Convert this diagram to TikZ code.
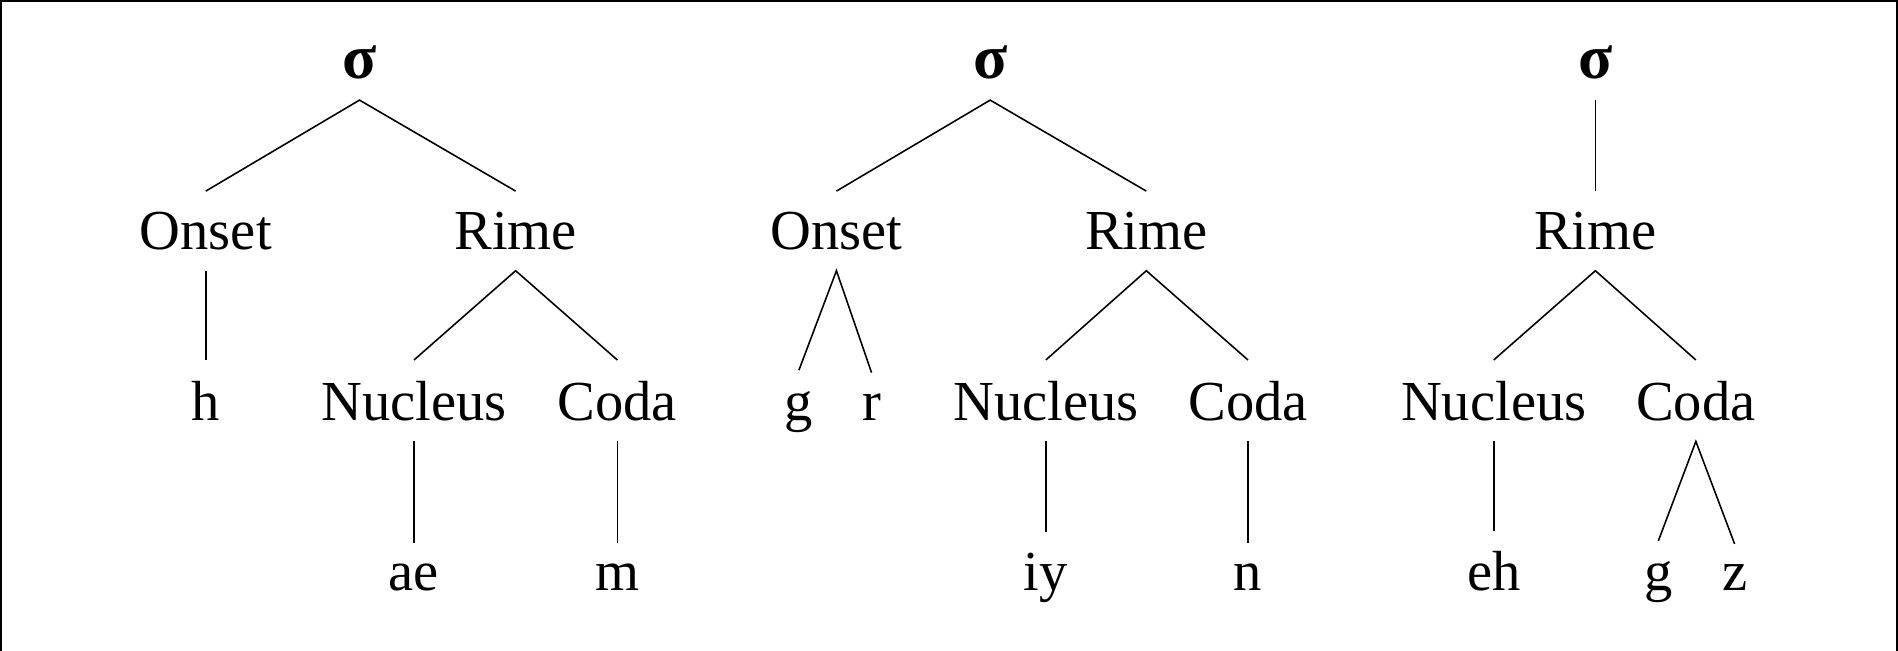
\documentclass[tikz,border=0pt]{standalone}
\usepackage{fontspec}
\setmainfont{Liberation Serif}
\begin{document}
\begin{tikzpicture}[x=1pt,y=-1pt,
  lab/.style={font=\fontsize{46.7}{50}\selectfont, anchor=base, inner xsep=0pt, inner ysep=17pt},
  sig/.style={lab, font=\fontsize{52}{56}\selectfont\bfseries},
  edge/.style={line width=1.3pt}]
\useasboundingbox (0,0) rectangle (1568,537);
\draw[line width=1.6pt] (1,560) -- (1,1) -- (1567,1) -- (1567,560);
% tree 1
\node[sig] (s1) at (297,65) {σ};
\node[lab] (on1) at (170,206) {Onset};
\node[lab] (ri1) at (426,206) {Rime};
\node[lab] (h1) at (170,347) {h};
\node[lab] (nu1) at (342,347) {Nucleus};
\node[lab] (co1) at (510,347) {Coda};
\node[lab] (ae1) at (342,488) {ae};
\node[lab] (m1) at (510,488) {m};
\draw[edge] (on1.north) -- (s1.south) -- (ri1.north);
\draw[edge] (on1.south) -- (h1.north);
\draw[edge] (nu1.north) -- (ri1.south) -- (co1.north);
\draw[edge] (nu1.south) -- (ae1.north);
\draw[edge] (co1.south) -- (m1.north);
% tree 2
\node[sig] (s2) at (818,65) {σ};
\node[lab] (on2) at (691,206) {Onset};
\node[lab] (ri2) at (947,206) {Rime};
\node[lab] (g2) at (660,347) {g};
\node[lab] (r2) at (720,347) {r};
\node[lab] (nu2) at (864,347) {Nucleus};
\node[lab] (co2) at (1031,347) {Coda};
\node[lab] (iy2) at (864,488) {iy};
\node[lab] (n2) at (1031,488) {n};
\draw[edge] (on2.north) -- (s2.south) -- (ri2.north);
\draw[edge] (g2.north) -- (on2.south) -- (r2.north);
\draw[edge] (nu2.north) -- (ri2.south) -- (co2.north);
\draw[edge] (nu2.south) -- (iy2.north);
\draw[edge] (co2.south) -- (n2.north);
% tree 3
\node[sig] (s3) at (1318,65) {σ};
\node[lab] (ri3) at (1318,206) {Rime};
\node[lab] (nu3) at (1234,347) {Nucleus};
\node[lab] (co3) at (1401,347) {Coda};
\node[lab] (eh3) at (1234,488) {eh};
\node[lab] (g3) at (1370,488) {g};
\node[lab] (z3) at (1433,488) {z};
\draw[edge] (s3.south) -- (ri3.north);
\draw[edge] (nu3.north) -- (ri3.south) -- (co3.north);
\draw[edge] (nu3.south) -- (eh3.north);
\draw[edge] (g3.north) -- (co3.south) -- (z3.north);
\end{tikzpicture}
\end{document}
